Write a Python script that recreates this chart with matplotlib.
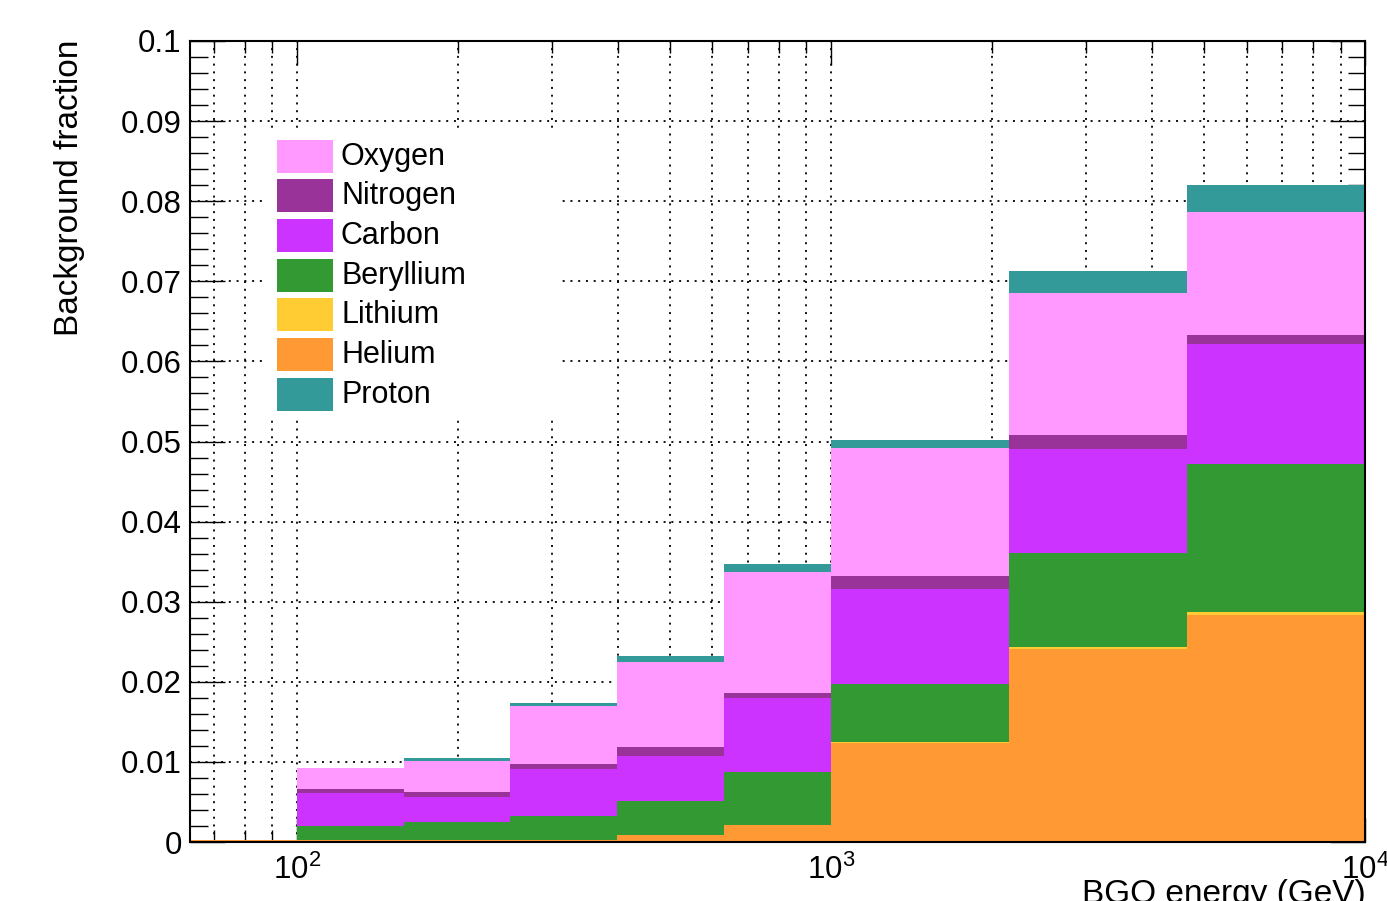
import matplotlib
matplotlib.use("Agg")
import matplotlib.pyplot as plt
import numpy as np
from matplotlib.patches import Rectangle
from matplotlib.ticker import LogLocator, FixedLocator, MultipleLocator, NullFormatter, FixedFormatter

plt.rcParams['font.family'] = ['Liberation Sans', 'DejaVu Sans']
plt.rcParams['mathtext.fontset'] = 'custom'
plt.rcParams['mathtext.rm'] = 'Liberation Sans'
plt.rcParams['mathtext.it'] = 'Liberation Sans'

# Energy bin edges (GeV)
bin_edges = [63.1, 100, 158.5, 251.2, 398.1, 631.0, 1000, 2154, 4642, 10000]

# Per-species background fraction in each energy bin
helium    = [0.0002, 0.0002, 0.0002, 0.0002, 0.00087, 0.00212, 0.0124, 0.0241, 0.0283]
lithium   = [0.0,    0.0,    0.0,    0.0,    0.0,     0.0,     0.0001, 0.0002, 0.0004]
beryllium = [0.0,    0.0018, 0.00234, 0.00305, 0.00421, 0.00666, 0.00727, 0.0118, 0.0185]
carbon    = [0.0,    0.00414, 0.00311, 0.00585, 0.00566, 0.00922, 0.01183, 0.0130, 0.0150]
nitrogen  = [0.0,    0.00043, 0.00062, 0.00064, 0.00108, 0.0006, 0.0016, 0.0017, 0.0011]
oxygen    = [0.0,    0.00263, 0.00383, 0.00726, 0.01068, 0.0151, 0.0160, 0.0177, 0.0154]
proton    = [0.0,    0.0001, 0.00035, 0.0004, 0.00072, 0.0010, 0.0010, 0.0028, 0.0033]

# Stacking order, bottom to top
stack = [
    ("Helium", helium, "#ff9933"),
    ("Lithium", lithium, "#ffcc33"),
    ("Beryllium", beryllium, "#339933"),
    ("Carbon", carbon, "#cc33ff"),
    ("Nitrogen", nitrogen, "#993399"),
    ("Oxygen", oxygen, "#ff99ff"),
    ("Proton", proton, "#339999"),
]
legend_order = ["Oxygen", "Nitrogen", "Carbon", "Beryllium", "Lithium", "Helium", "Proton"]

y_ticks = [0, 0.01, 0.02, 0.03, 0.04, 0.05, 0.06, 0.07, 0.08, 0.09, 0.1]
y_tick_labels = ["0", "0.01", "0.02", "0.03", "0.04", "0.05", "0.06", "0.07", "0.08", "0.09", "0.1"]
x_ticks = [100, 1000, 10000]
x_tick_labels = [r"$\mathregular{10^{2}}$", r"$\mathregular{10^{3}}$", r"$\mathregular{10^{4}}$"]

W, H = 1387, 901
fig = plt.figure(figsize=(W / 100, H / 100), dpi=100)
L, R, T, B = 190, 1365, 41, 842
ax = fig.add_axes([L / W, 1 - B / H, (R - L) / W, (B - T) / H])


def px(x, y):
    """Pixel position (from top-left) to figure fraction."""
    return x / W, 1 - y / H


ax.set_xscale("log")
ax.set_xlim(bin_edges[0], bin_edges[-1])
ax.set_ylim(0, 0.1)

# Stacked histogram
bottom = np.zeros(len(bin_edges) - 1)
colors = {}
for name, vals, col in stack:
    vals = np.asarray(vals)
    top = bottom + vals
    ax.stairs(top, bin_edges, baseline=bottom.copy(), fill=True, color=col,
              linewidth=0, zorder=1)
    colors[name] = col
    bottom = top

# Grid
ax.set_axisbelow(True)
grid_kw = dict(color="black", linewidth=1.3, linestyle=(0, (1.1, 3.2)))
ax.grid(which="both", axis="x", **grid_kw)
ax.grid(which="major", axis="y", **grid_kw)

# Ticks
ax.xaxis.set_major_locator(FixedLocator(x_ticks))
ax.xaxis.set_major_formatter(FixedFormatter(x_tick_labels))
ax.xaxis.set_minor_locator(LogLocator(base=10, subs=np.arange(2, 10), numticks=20))
ax.xaxis.set_minor_formatter(NullFormatter())
ax.yaxis.set_major_locator(FixedLocator(y_ticks))
ax.yaxis.set_major_formatter(FixedFormatter(y_tick_labels))
ax.yaxis.set_minor_locator(MultipleLocator(0.002))

ax.tick_params(axis="both", which="both", direction="in", top=True, right=True,
               color="black", width=1.0, zorder=3)
ax.tick_params(axis="x", which="major", length=24 * 0.72, pad=9, labelsize=22.5)
ax.tick_params(axis="x", which="minor", length=12 * 0.72)
ax.tick_params(axis="y", which="major", length=35 * 0.72, pad=6, labelsize=22.5)
ax.tick_params(axis="y", which="minor", length=17.5 * 0.72)
for s in ax.spines.values():
    s.set_linewidth(1.5)

# Axis titles
fig.text(*px(70, 40), "Background fraction", rotation=90, ha="center", va="top",
         fontsize=24)
fig.text(*px(1366, 879), "BGO energy (GeV)", ha="right", va="top", fontsize=24)

# Legend
ax.add_patch(Rectangle(px(265, 417), (560 - 265) / W, (417 - 133) / H,
                       transform=fig.transFigure, facecolor="white",
                       edgecolor="none", zorder=4, clip_on=False))
row0, pitch = 156, 39.7
for i, name in enumerate(legend_order):
    yc = row0 + i * pitch
    ax.add_patch(Rectangle(px(277, yc + 16.5), 56 / W, 33 / H,
                           transform=fig.transFigure, facecolor=colors[name],
                           edgecolor="none", zorder=5, clip_on=False))
    fig.text(*px(341, yc - 3), name, ha="left", va="center_baseline", fontsize=22,
             zorder=6)

fig.savefig("out.png", dpi=100)
